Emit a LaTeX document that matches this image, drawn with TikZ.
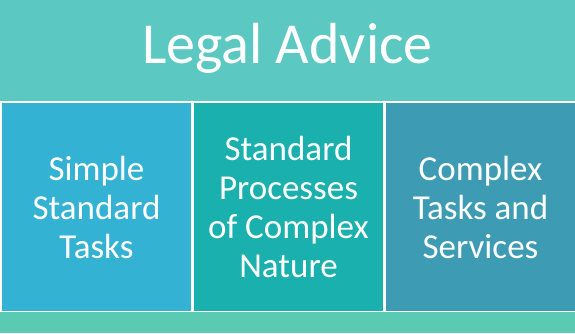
\documentclass[tikz,border=0pt]{standalone}
\usepackage{fontspec}
\setmainfont{Carlito}
\usepackage{tikz}
\usepackage{xcolor}
\usetikzlibrary{positioning}

\definecolor{topband}{HTML}{5BC8C2}
\definecolor{colA}{HTML}{33B2D3}
\definecolor{colB}{HTML}{1AB0AD}
\definecolor{colC}{HTML}{3D9CB3}
\definecolor{footband}{HTML}{5BCAB2}

\begin{document}
\begin{tikzpicture}[
  x=1pt, y=1pt,
  band/.style={draw=none, inner sep=0pt, outer sep=0pt},
  column/.style={draw=white, line width=1.5pt, inner sep=0pt, outer sep=0pt,
    minimum width=191pt, minimum height=210pt, text=white,
    align=center, font=\fontsize{35}{39}\selectfont},
]
\useasboundingbox (0,0) rectangle (575,333);
\fill[white] (0,0) rectangle (575,333);

% top band
\node[band, fill=topband, minimum width=575pt, minimum height=101pt] (top) at (287.5,282.5) {};
\node[text=white, font=\fontsize{58}{64}\selectfont] (title) at (287.5,285) {Legal Advice};

% columns
\node[column, fill=colA] (simple) at (96.5,126) {Simple\\Standard\\Tasks};
\node[column, fill=colB] (process) at (288.5,126) {Standard\\Processes\\of Complex\\Nature};
\node[column, fill=colC] (complex) at (480.5,126) {Complex\\Tasks and\\Services};

% bottom band
\fill[footband] (0,0) rectangle (575,21);
\end{tikzpicture}
\end{document}
